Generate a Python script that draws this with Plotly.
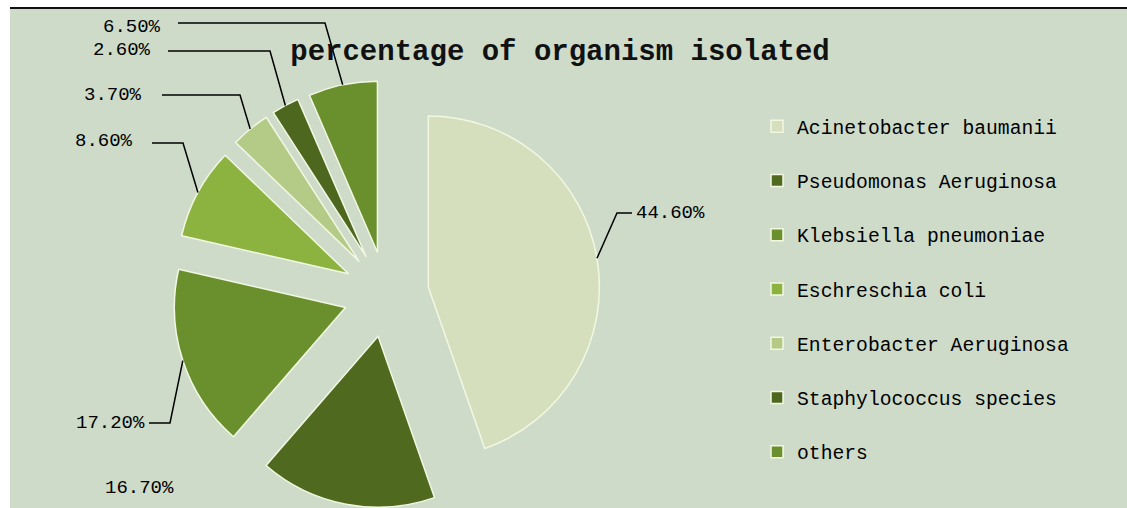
import math
import plotly.graph_objects as go

# ---------------- data ----------------
labels = ["Acinetobacter baumanii", "Pseudomonas Aeruginosa", "Klebsiella pneumoniae",
          "Eschreschia coli", "Enterobacter Aeruginosa", "Staphylococcus species", "others"]
values = [44.6, 16.7, 17.2, 8.6, 3.7, 2.6, 6.5]
title_text = "percentage of organism isolated"

# ---------------- style ----------------
colors = ["#d5dfbd", "#4f6a1f", "#6a902e", "#8cb23f", "#b3cb86", "#4e671e", "#6a902e"]
BG = "#cedbc9"
W, H = 1127, 508
PULL = 0.25
DOM_X = [0.1526, 0.5326]
DOM_Y = [0.0, 0.842]
MONO = "Liberation Mono"

# label placement (pixels): text anchor point, and the elbow / end of the leader line
label_style = [
    dict(tx=634, ty=213, xa="left", elbow=(617, 213), end=(632, 213)),
    dict(tx=139, ty=488, xa="center", elbow=None, end=None),
    dict(tx=147, ty=423, xa="right", elbow=(170, 423), end=(149, 423)),
    dict(tx=135, ty=141, xa="right", elbow=(183, 143), end=(152, 143)),
    dict(tx=144, ty=95, xa="right", elbow=(240, 95), end=(162, 95)),
    dict(tx=153, ty=50, xa="right", elbow=(270, 51), end=(168, 51)),
    dict(tx=163, ty=27, xa="right", elbow=(325, 23), end=(178, 23)),
]


def px(x):
    return x / W


def py(y):
    return 1 - y / H


# pie geometry exactly as plotly lays it out (margins are zero)
box_w = W * (DOM_X[1] - DOM_X[0])
box_h = H * (DOM_Y[1] - DOM_Y[0])
R = min(box_w, box_h) / 2 / (1 + PULL)
CX = W * (DOM_X[0] + DOM_X[1]) / 2
CY = H * (1 - (DOM_Y[0] + DOM_Y[1]) / 2)

total = sum(values)
legend_names = [l + "<br> " for l in labels]

fig = go.Figure()
fig.add_trace(go.Pie(
    labels=legend_names,
    values=values,
    sort=False,
    direction="clockwise",
    rotation=0,
    pull=PULL,
    domain=dict(x=DOM_X, y=DOM_Y),
    marker=dict(colors=colors, line=dict(color="#f2f7e2", width=1.5)),
    textinfo="none",
    hovertext=labels,
    hoverinfo="text+percent",
))

annotations = []
shapes = []
cum = 0.0
for v, st in zip(values, label_style):
    mid = (cum + v / 2) / total * 2 * math.pi
    cum += v
    dx, dy = math.sin(mid), -math.cos(mid)
    ax = CX + (PULL * R + R) * dx
    ay = CY + (PULL * R + R) * dy
    annotations.append(dict(
        x=px(st["tx"]), y=py(st["ty"]), xref="paper", yref="paper",
        xanchor=st["xa"], yanchor="middle", showarrow=False,
        text=f"{v:.2f}%", font=dict(family=MONO, size=19, color="#000000"),
    ))
    if st["elbow"] is not None:
        ex, ey = st["elbow"]
        nx, ny = st["end"]
        shapes.append(dict(
            type="path", xref="paper", yref="paper",
            path=f"M {px(ax)},{py(ay)} L {px(ex)},{py(ey)} L {px(nx)},{py(ny)}",
            line=dict(color="#000000", width=1.5),
        ))

# frame of the original picture: white strips and the black top rule
shapes += [
    dict(type="rect", xref="paper", yref="paper", x0=0, x1=px(10), y0=0, y1=1,
         fillcolor="#ffffff", line=dict(width=0)),
    dict(type="rect", xref="paper", yref="paper", x0=0, x1=1, y0=py(7), y1=1,
         fillcolor="#ffffff", line=dict(width=0)),
    dict(type="line", xref="paper", yref="paper", x0=px(10), x1=1, y0=py(8), y1=py(8),
         line=dict(color="#111111", width=2)),
]

fig.update_layout(
    width=W, height=H, autosize=False,
    margin=dict(l=0, r=0, t=0, b=0, pad=0),
    paper_bgcolor=BG, plot_bgcolor=BG,
    title=dict(text=title_text, x=px(560), xanchor="center", xref="paper",
               y=py(50), yref="container", yanchor="middle",
               font=dict(family=MONO, size=29, color="#111111", weight="bold")),
    showlegend=True,
    legend=dict(x=px(757), y=py(107), xanchor="left", yanchor="top",
                font=dict(family=MONO, size=19.7, color="#000000"),
                valign="top", bgcolor="rgba(0,0,0,0)", borderwidth=0),
    annotations=annotations,
    shapes=shapes,
)

fig.write_html("out.html", config={"displayModeBar": False})
